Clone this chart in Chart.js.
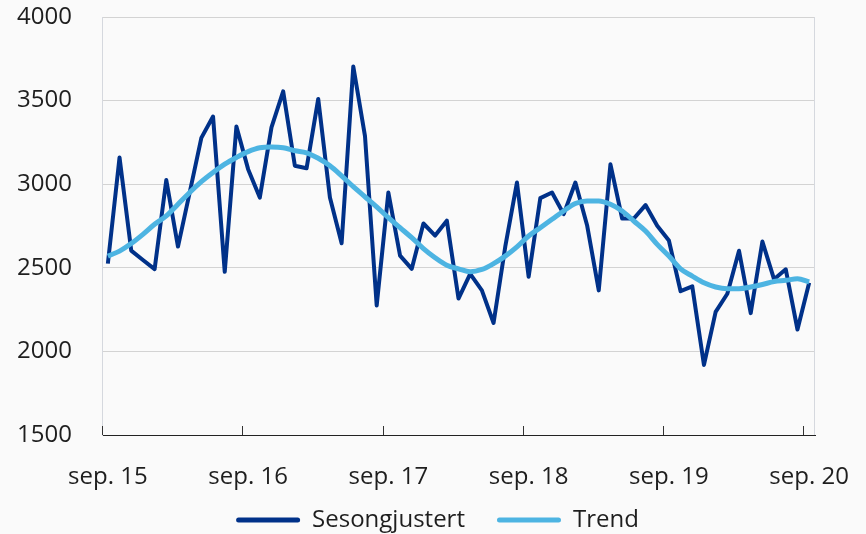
<!DOCTYPE html>
<html><head><meta charset="utf-8">
<script src="https://cdn.jsdelivr.net/npm/chart.js@4/dist/chart.umd.min.js"></script>
<style>html,body{margin:0;padding:0;background:#fafafa}#wrap{width:866px;height:534px;position:relative}</style>
</head><body><div id="wrap"><canvas id="c"></canvas></div>
<script>
const months = [
 "sep. 15","okt. 15","nov. 15","des. 15","jan. 16","feb. 16","mar. 16","apr. 16","mai. 16","jun. 16","jul. 16","aug. 16",
 "sep. 16","okt. 16","nov. 16","des. 16","jan. 17","feb. 17","mar. 17","apr. 17","mai. 17","jun. 17","jul. 17","aug. 17",
 "sep. 17","okt. 17","nov. 17","des. 17","jan. 18","feb. 18","mar. 18","apr. 18","mai. 18","jun. 18","jul. 18","aug. 18",
 "sep. 18","okt. 18","nov. 18","des. 18","jan. 19","feb. 19","mar. 19","apr. 19","mai. 19","jun. 19","jul. 19","aug. 19",
 "sep. 19","okt. 19","nov. 19","des. 19","jan. 20","feb. 20","mar. 20","apr. 20","mai. 20","jun. 20","jul. 20","aug. 20",
 "sep. 20"];
const sesongjustert = [
 2525,3160,2603,2547,2492,3025,2627,2950,3277,3405,2476,3345,
 3090,2920,3340,3555,3110,3095,3510,2920,2647,3704,3288,2275,
 2950,2573,2494,2765,2693,2782,2316,2464,2365,2170,2626,3010,
 2446,2917,2950,2821,3010,2755,2365,3119,2795,2795,2875,2752,
 2663,2360,2389,1919,2236,2345,2602,2229,2657,2431,2491,2131,
 2410];
const trend = [
 2570,2600,2645,2700,2760,2810,2880,2950,3015,3070,3120,3160,
 3195,3218,3222,3218,3200,3188,3155,3110,3050,2985,2925,2865,
 2800,2740,2680,2615,2560,2515,2494,2476,2490,2525,2570,2625,
 2690,2740,2790,2840,2885,2900,2900,2880,2840,2780,2720,2640,
 2570,2494,2450,2410,2385,2375,2375,2385,2400,2418,2425,2435,
 2415];
const yMin = 1500, yMax = 4000, yStep = 500;
const tickEvery = 12;

const FONT = 'Open Sans';
const TEXT = '#1e1e1e';
const LEGEND_PAD = 32;

const frame = {
  id: 'frame',
  afterLayout(chart) {
    const lg = chart.legend;
    if (lg) {
      lg.top = 520 - LEGEND_PAD - 12;
      lg.bottom = chart.height;
      lg.height = lg.bottom - lg.top;
      lg.left += 30; lg.right += 30;
    }
  },
  afterDatasetsDraw(chart) {
    const {ctx, chartArea: a, scales: {x}} = chart;
    ctx.save();
    ctx.strokeStyle = '#d5d8de';
    ctx.lineWidth = 1;
    const rx = Math.round(a.right) - 0.5;
    ctx.beginPath(); ctx.moveTo(rx, a.top); ctx.lineTo(rx, a.bottom); ctx.stroke();
    ctx.strokeStyle = '#333';
    const half = (x.getPixelForValue(1) - x.getPixelForValue(0)) / 2;
    for (let i = 0; i < months.length; i += tickEvery) {
      const px = Math.round(x.getPixelForValue(i) - half) + 0.5;
      ctx.beginPath(); ctx.moveTo(px, a.bottom - 9); ctx.lineTo(px, a.bottom); ctx.stroke();
    }
    ctx.restore();
  }
};

new Chart(document.getElementById('c'), {
  type: 'line',
  data: {
    labels: months,
    datasets: [
      {label: 'Sesongjustert', data: sesongjustert, borderColor: '#003189', backgroundColor: '#003189',
       borderWidth: 4, pointRadius: 0, tension: 0, borderJoinStyle: 'round', order: 1},
      {label: 'Trend', data: trend, borderColor: '#4db4e2', backgroundColor: '#4db4e2',
       borderWidth: 5, pointRadius: 0, cubicInterpolationMode: 'monotone', order: 0}
    ]
  },
  options: {
    responsive: true, maintainAspectRatio: false, animation: false,
    layout: {padding: {left: 0, right: 51, top: 17, bottom: 0}},
    plugins: {
      tooltip: {enabled: false},
      legend: {
        position: 'bottom',
        maxHeight: 30,
        labels: {
          font: {family: FONT, size: 24, lineHeight: 1}, color: TEXT,
          boxWidth: 64, boxHeight: 5, padding: LEGEND_PAD,
          useBorderRadius: true, borderRadius: 2.5,
          sort: (a, b) => a.datasetIndex - b.datasetIndex,
          generateLabels(chart) {
            const items = Chart.defaults.plugins.legend.labels.generateLabels(chart);
            items.forEach(it => { it.lineWidth = 0; it.fillStyle = it.strokeStyle; });
            return items;
          }
        }
      }
    },
    scales: {
      x: {
        type: 'category', offset: true,
        grid: {display: true, drawOnChartArea: false, drawTicks: true, tickLength: 28, tickColor: 'rgba(0,0,0,0)', offset: true},
        border: {display: true, color: '#222', width: 1},
        ticks: {
          autoSkip: false, maxRotation: 0, padding: 0,
          font: {family: FONT, size: 24}, color: TEXT,
          callback: (v, i) => (i % tickEvery === 0 ? months[i] : '')
        },
        afterFit: s => { s.height = 69; }
      },
      y: {
        min: yMin, max: yMax,
        grid: {color: '#d3d3d3', lineWidth: 1, drawTicks: true, tickLength: 30, tickColor: 'rgba(0,0,0,0)'},
        border: {display: true, color: '#d5d8de', width: 1},
        ticks: {stepSize: yStep, padding: 0, font: {family: FONT, size: 24}, color: TEXT,
                callback: v => String(v)},
        afterFit: s => { s.width = 102; }
      }
    }
  },
  plugins: [frame]
});
</script>
</body></html>
